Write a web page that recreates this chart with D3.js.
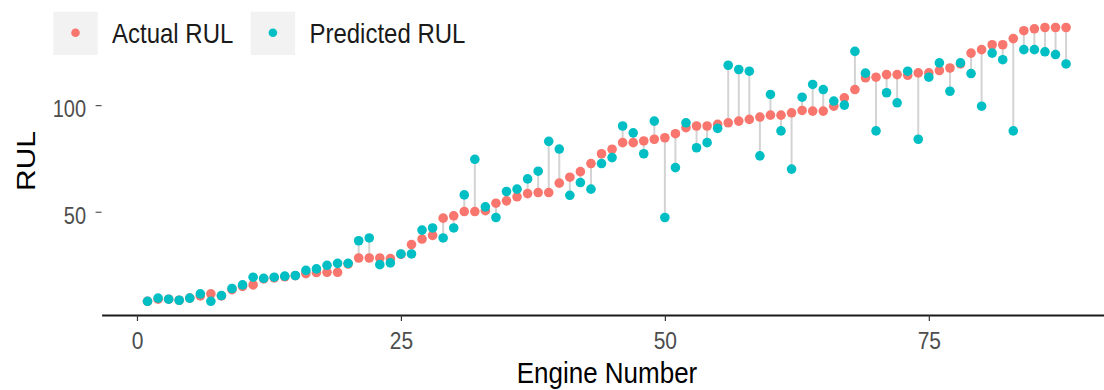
<!DOCTYPE html>
<html>
<head>
<meta charset="utf-8">
<script src="https://cdn.jsdelivr.net/npm/d3@7"></script>
<style>
  body { margin: 0; background: #fff; }
  svg { display: block; font-family: "Liberation Sans", Arial, sans-serif; }
</style>
</head>
<body>
<script>
// engine numbers 1..88 and RUL values
const engines = d3.range(1, 89);

const actualRUL = [
  8, 9, 9, 8.5, 9.5, 10.5, 11.5, 10.5, 13.5, 15,
  15.7, 18.5, 19, 19.5, 20, 21, 21.5, 21.6, 21.6, 25.5,
  28.3, 28.3, 28.3, 28, 30, 34.6, 37.2, 38.9, 47, 48.1,
  50.1, 50.1, 50.5, 54, 55.1, 57, 58.5, 59, 59, 63.4,
  66.2, 68.8, 72.6, 77.2, 79.3, 82.4, 82.4, 83.2, 84, 84.7,
  86.6, 89.4, 90.2, 90.2, 91, 91.7, 92.5, 93.3, 94.4, 95.3,
  95.3, 96.4, 97.5, 97.2, 97.2, 99.5, 103.4, 107.3, 112.8, 113.1,
  114.3, 114.3, 114, 115.1, 115.1, 116.2, 117.4, 119.3, 124.4, 126,
  128.3, 128.3, 131.2, 134.9, 135.8, 136.4, 136.4, 136.4
];

const predictedRUL = [
  8, 9.5, 9, 8.5, 9.5, 11.5, 8, 10.7, 14, 15.7,
  19.3, 18.8, 19.3, 19.8, 20.1, 22.5, 23.2, 24.9, 25.8, 25.8,
  36.4, 37.7, 25.2, 26, 30.2, 30.2, 41.4, 42.4, 37.7, 42.4,
  57.9, 74.6, 52.3, 47.3, 59.5, 60.6, 65.4, 69, 83, 79.4,
  57.7, 63.7, 60.6, 72.6, 75.4, 90.2, 87, 77.2, 92.5, 47.3,
  70.7, 91.7, 80, 82.4, 89.1, 118.7, 116.7, 115.9, 76.2, 105,
  87.9, 70, 103.7, 109.7, 107.3, 101.9, 100, 125.2, 115, 87.9,
  105.8, 101.1, 115.9, 84, 113.1, 119.8, 106.5, 119.8, 114.8, 99.5,
  124.4, 121.3, 87.9, 126, 126, 125, 123.7, 119.3
];

const seriesNames = ["Actual RUL", "Predicted RUL"];
const seriesColors = ["#F8766D", "#00BFC4"];
const xTicks = [0, 25, 50, 75];
const yTicks = [50, 100];

const width = 1104;
const height = 390;
const stretch = 1.15; // text in the reference is a bit taller than wide

const rows = engines.map((e, i) => ({ engine: e, actual: actualRUL[i], predicted: predictedRUL[i] }));

// ggplot style 5% expansion around the data
const xExt = d3.extent(engines);
const xPad = (xExt[1] - xExt[0]) * 0.05;
const allY = actualRUL.concat(predictedRUL);
const yExt = d3.extent(allY);
const yPad = (yExt[1] - yExt[0]) * 0.05;

const x = d3.scaleLinear([xExt[0] - xPad, xExt[1] + xPad], [101.6, 1112]);
const y = d3.scaleLinear([yExt[0] - yPad, yExt[1] + yPad], [315, 13.8]);
const color = d3.scaleOrdinal(seriesNames, seriesColors);

const svg = d3.create("svg").attr("width", width).attr("height", height);

// segments between actual and predicted
svg.append("g")
  .selectAll("line")
  .data(rows)
  .join("line")
  .attr("x1", (d) => x(d.engine))
  .attr("x2", (d) => x(d.engine))
  .attr("y1", (d) => y(d.actual))
  .attr("y2", (d) => y(d.predicted))
  .attr("stroke", "#d3d3d3")
  .attr("stroke-width", 2);

svg.append("g")
  .selectAll("circle")
  .data(rows)
  .join("circle")
  .attr("cx", (d) => x(d.engine))
  .attr("cy", (d) => y(d.actual))
  .attr("r", 4.8)
  .attr("fill", color("Actual RUL"));

svg.append("g")
  .selectAll("circle")
  .data(rows)
  .join("circle")
  .attr("cx", (d) => x(d.engine))
  .attr("cy", (d) => y(d.predicted))
  .attr("r", 4.8)
  .attr("fill", color("Predicted RUL"));

// x axis
const gx = svg.append("g")
  .attr("transform", `translate(0,${y.range()[0]})`)
  .call(d3.axisBottom(x).tickValues(xTicks).tickSize(6).tickSizeOuter(0));
gx.select(".domain").attr("stroke", "#1a1a1a").attr("stroke-width", 2);
gx.selectAll(".tick line").attr("stroke", "#333").attr("stroke-width", 1.2);
gx.selectAll(".tick text")
  .attr("y", 0).attr("dy", null)
  .attr("transform", `translate(0,34) scale(1,${stretch})`)
  .attr("fill", "#4d4d4d")
  .style("font-size", "21px");

// y axis, ticks only
const gy = svg.append("g")
  .attr("transform", `translate(${x.range()[0]},0)`)
  .call(d3.axisLeft(y).tickValues(yTicks).tickSize(6));
gy.select(".domain").remove();
gy.selectAll(".tick line").attr("stroke", "#555").attr("stroke-width", 1.2);
gy.selectAll(".tick text")
  .attr("x", 0).attr("dy", null)
  .attr("transform", `translate(-15.6,11.6) scale(1,${stretch})`)
  .attr("fill", "#4d4d4d")
  .style("font-size", "20px");

// axis titles
svg.append("text")
  .attr("transform", `translate(607,383) scale(1,${stretch})`)
  .attr("text-anchor", "middle")
  .style("font-size", "26px")
  .attr("fill", "#000")
  .text("Engine Number");

svg.append("text")
  .attr("transform", `translate(35,161) scale(1,${stretch}) rotate(-90)`)
  .attr("text-anchor", "middle")
  .style("font-size", "26px")
  .attr("fill", "#000")
  .text("RUL");

// legend
const keyX = [53.3, 250.7];
const legend = svg.append("g")
  .selectAll("g")
  .data(seriesNames)
  .join("g")
  .attr("transform", (d, i) => `translate(${keyX[i]},11.7)`);

legend.append("rect")
  .attr("width", 44.4)
  .attr("height", 43.3)
  .attr("fill", "#f2f2f2");

legend.append("circle")
  .attr("cx", 22.2)
  .attr("cy", 21)
  .attr("r", 4.3)
  .attr("fill", (d) => color(d));

legend.append("text")
  .attr("transform", `translate(58.7,31.6) scale(1,${stretch})`)
  .style("font-size", "24px")
  .attr("fill", "#1a1a1a")
  .text((d) => d);

document.body.appendChild(svg.node());
</script>
</body>
</html>
